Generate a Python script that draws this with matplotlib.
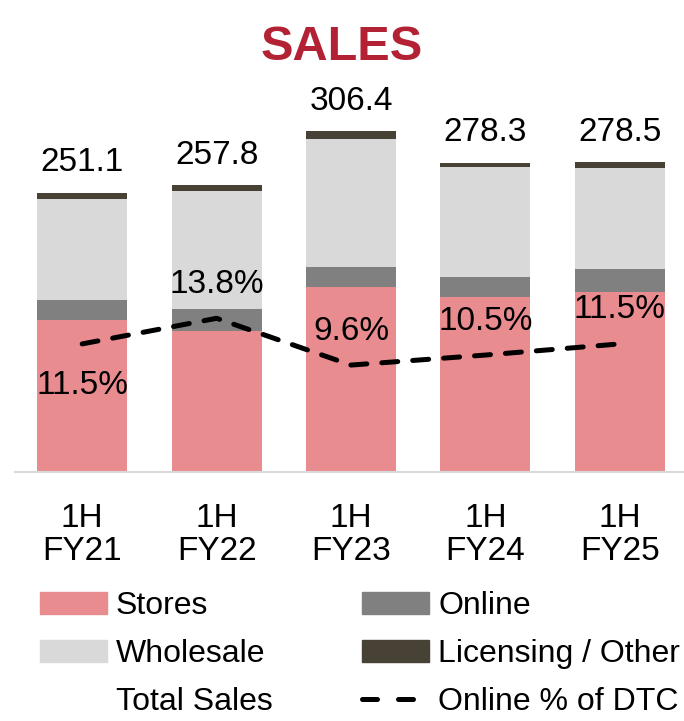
import matplotlib
matplotlib.use("Agg")
from matplotlib import pyplot as plt
from matplotlib.patches import Patch
from matplotlib.lines import Line2D

plt.rcParams['font.family'] = ['Liberation Sans', 'DejaVu Sans']

# data
periods = ['1H\nFY21', '1H\nFY22', '1H\nFY23', '1H\nFY24', '1H\nFY25']
stores = [136.9, 126.4, 166.7, 157.0, 161.6]
online = [17.8, 20.2, 17.7, 18.4, 21.0]
wholesale = [90.8, 106.1, 115.1, 98.9, 90.8]
licensing = [5.6, 5.1, 6.9, 4.0, 5.1]
total_sales = [251.1, 257.8, 306.4, 278.3, 278.5]
online_pct_dtc = [11.5, 13.8, 9.6, 10.5, 11.5]
pct_label_side = ['below', 'above', 'above', 'above', 'above']

# colours
c_stores = '#E88C90'
c_online = '#808080'
c_wholesale = '#D9D9D9'
c_licensing = '#474136'
c_title = '#B22234'

fig = plt.figure(figsize=(6.84, 7.21), dpi=100)
ax = fig.add_axes([15 / 684, 249 / 721, 672 / 684, 372 / 721])

x = list(range(len(periods)))
width = 0.67

bottom = [0] * len(x)
for vals, col in [(stores, c_stores), (online, c_online),
                  (wholesale, c_wholesale), (licensing, c_licensing)]:
    ax.bar(x, vals, width, bottom=bottom, color=col, linewidth=0)
    bottom = [b + v for b, v in zip(bottom, vals)]

# total labels
for xi, tot in zip(x, total_sales):
    ax.annotate(f'{tot:.1f}', (xi, tot), xytext=(0, 21.5), textcoords='offset points',
                ha='center', va='center', fontsize=24)

ax.set_xlim(-0.5, 4.5)
ax.set_ylim(0, 334.5)
ax.set_xticks(x)
ax.set_xticklabels(periods, fontsize=24, linespacing=1.1)
ax.tick_params(axis='x', length=0, pad=22)
ax.set_yticks([])
for s in ['top', 'right', 'left']:
    ax.spines[s].set_visible(False)
ax.spines['bottom'].set_color('#D9D9D9')
ax.spines['bottom'].set_linewidth(1.5)

# secondary axis for online % of DTC
ax2 = ax.twinx()
ax2.plot(x, online_pct_dtc, color='black', linewidth=3.6,
         dashes=(3.2, 3.0), dash_capstyle='round')
ax2.set_ylim(0, 33.4)
ax2.set_yticks([])
for s in ['top', 'right', 'left', 'bottom']:
    ax2.spines[s].set_visible(False)

for xi, p, side in zip(x, online_pct_dtc, pct_label_side):
    off = 24.5 if side == 'above' else -30
    ax2.annotate(f'{p:.1f}%', (xi, p), xytext=(0, off), textcoords='offset points',
                 ha='center', va='center', fontsize=24)

fig.text(0.5, 1 - 48 / 721, 'SALES', ha='center', va='center',
         fontsize=35, fontweight='bold', color=c_title)

# legend (column-wise fill)
handles = [
    Patch(color=c_stores, label='Stores'),
    Patch(color=c_wholesale, label='Wholesale'),
    Patch(facecolor='none', edgecolor='none', label='Total Sales'),
    Patch(color=c_online, label='Online'),
    Patch(color=c_licensing, label='Licensing / Other'),
    Line2D([], [], color='black', linewidth=3.6, dashes=(3.0, 4.2),
           dash_capstyle='round', label='Online % of DTC'),
]
fig.legend(handles=handles, ncol=2, loc='upper left',
           bbox_to_anchor=(40 / 684, 1 - 591 / 721), frameon=False,
           fontsize=23, handlelength=2.1, handleheight=0.69,
           handletextpad=0.28, labelspacing=0.56, columnspacing=2.8,
           borderpad=0, borderaxespad=0)

fig.savefig('out.png', dpi=100)
